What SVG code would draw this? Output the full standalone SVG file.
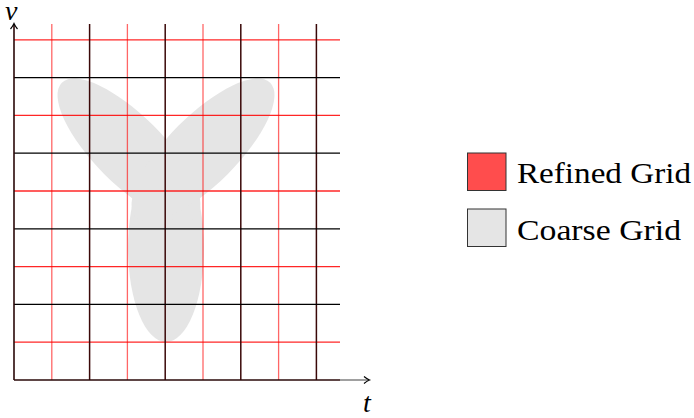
<svg xmlns="http://www.w3.org/2000/svg" width="694" height="418" viewBox="0 0 694 418">
<style>
.rv{stroke:#ff0000;stroke-opacity:0.6;stroke-width:1.3}
.rh{stroke:#ff0000;stroke-opacity:0.85;stroke-width:1.3}
.bv{stroke:#3a0808;stroke-width:1.5}
.bh{stroke:#000;stroke-width:1.3}
.lbl{font-family:'Liberation Serif',serif;font-size:29px;fill:#000}
.ax{font-family:'Liberation Serif',serif;font-style:italic;font-size:28px;fill:#000}
.blob{fill:#e5e5e5}
</style>
<defs>
<marker id="arr" markerWidth="10" markerHeight="10" refX="7" refY="5" orient="auto" markerUnits="userSpaceOnUse">
<path d="M2,1.5 Q5,4 7.5,5 Q5,6 2,8.5" fill="none" stroke="#000" stroke-width="1.2"/>
</marker>
</defs>
<g id="shape">
<ellipse class="blob" cx="166" cy="248" rx="38" ry="94"/>
<ellipse class="blob" cx="129" cy="150" rx="95" ry="34.5" transform="rotate(45 129 150)"/>
<ellipse class="blob" cx="203" cy="150" rx="95" ry="34.5" transform="rotate(-45 203 150)"/>
</g>
<g id="grid">
<g id="fine">
<line class="rv" x1="51.8" y1="24" x2="51.8" y2="380"/>
<line class="rv" x1="127.4" y1="24" x2="127.4" y2="380"/>
<line class="rv" x1="203" y1="24" x2="203" y2="380"/>
<line class="rv" x1="278.6" y1="24" x2="278.6" y2="380"/>
<line class="rh" x1="14" y1="39.8" x2="340" y2="39.8"/>
<line class="rh" x1="14" y1="115.4" x2="340" y2="115.4"/>
<line class="rh" x1="14" y1="191" x2="340" y2="191"/>
<line class="rh" x1="14" y1="266.6" x2="340" y2="266.6"/>
<line class="rh" x1="14" y1="342.2" x2="340" y2="342.2"/>
</g>
<g id="coarse">
<line class="bv" x1="89.6" y1="24" x2="89.6" y2="380"/>
<line class="bv" x1="165.2" y1="24" x2="165.2" y2="380"/>
<line class="bv" x1="240.8" y1="24" x2="240.8" y2="380"/>
<line class="bv" x1="316.4" y1="24" x2="316.4" y2="380"/>
<line class="bh" x1="14" y1="77.6" x2="340" y2="77.6"/>
<line class="bh" x1="14" y1="153.2" x2="340" y2="153.2"/>
<line class="bh" x1="14" y1="228.8" x2="340" y2="228.8"/>
<line class="bh" x1="14" y1="304.4" x2="340" y2="304.4"/>
</g>
</g>
<g id="axes">
<line x1="340" y1="380" x2="369" y2="380" stroke="#808080" stroke-width="1.5" marker-end="url(#arr)"/>
<line x1="14" y1="380" x2="340" y2="380" stroke="#2a0808" stroke-width="1.6"/>
<line x1="14" y1="380" x2="14" y2="24" stroke="#2a0808" stroke-width="1.6" marker-end="url(#arr)"/>
<text class="ax" x="5" y="20">v</text>
<text class="ax" x="363" y="412">t</text>
</g>
<g id="legend">
<g id="legend-refined">
<rect x="467.5" y="153" width="38.5" height="37.5" fill="#ff4d4d" stroke="#333" stroke-width="1"/>
<text class="lbl" x="517" y="183" textLength="174" lengthAdjust="spacingAndGlyphs">Refined Grid</text>
</g>
<g id="legend-coarse">
<rect x="467.5" y="209" width="38.5" height="37.5" fill="#e5e5e5" stroke="#333" stroke-width="1"/>
<text class="lbl" x="517" y="240" textLength="164" lengthAdjust="spacingAndGlyphs">Coarse Grid</text>
</g>
</g>
</svg>
